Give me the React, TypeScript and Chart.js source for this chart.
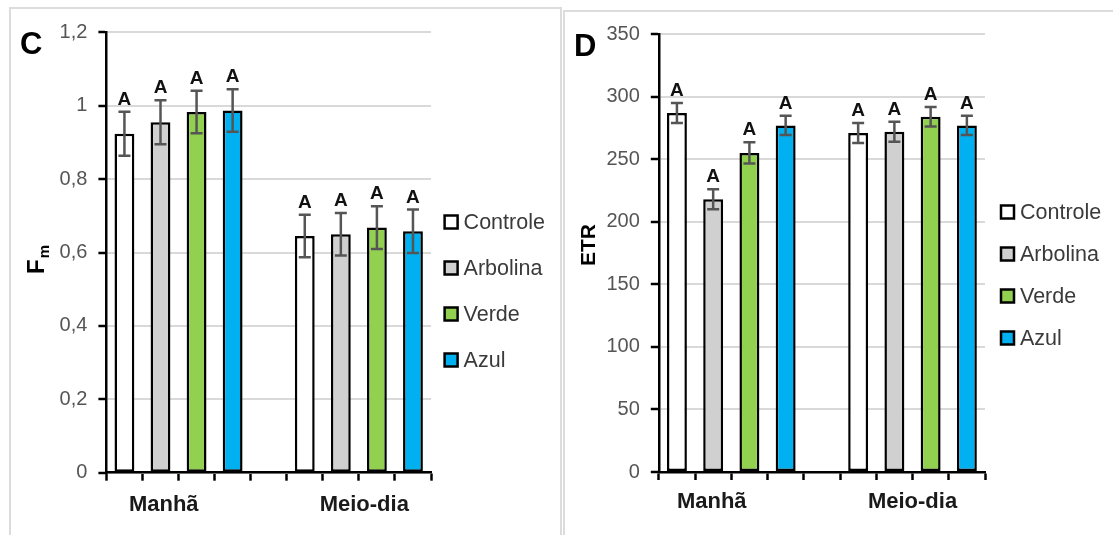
import React, { useEffect, useRef } from 'react';
import { Chart, registerables } from 'chart.js';

Chart.register(...registerables);

// ---------- data ----------
const categories = ['Manhã', 'Meio-dia'];
const seriesNames = ['Controle', 'Arbolina', 'Verde', 'Azul'];
const seriesColors = ['#ffffff', '#d0d0d0', '#92d050', '#00b0f0'];

// Panel C: Fm
const fmControle = [0.924, 0.645];
const fmArbolina = [0.955, 0.65];
const fmVerde = [0.983, 0.668];
const fmAzul = [0.987, 0.658];
const fmErrControle = [0.06, 0.058];
const fmErrArbolina = [0.06, 0.058];
const fmErrVerde = [0.058, 0.058];
const fmErrAzul = [0.058, 0.059];
const fmLetters = [['A', 'A'], ['A', 'A'], ['A', 'A'], ['A', 'A']];
const fmTickLabels = ['0', '0,2', '0,4', '0,6', '0,8', '1', '1,2'];

// Panel D: ETR
const etrControle = [287, 271];
const etrArbolina = [218, 272];
const etrVerde = [255, 284];
const etrAzul = [277, 277];
const etrErrControle = [8, 8];
const etrErrArbolina = [8, 8];
const etrErrVerde = [8.5, 7.8];
const etrErrAzul = [7.7, 7.7];
const etrLetters = [['A', 'A'], ['A', 'A'], ['A', 'A'], ['A', 'A']];
const etrTickLabels = ['0', '50', '100', '150', '200', '250', '300', '350'];

const FONT = "'Liberation Sans', Arial, sans-serif";

type PanelCfg = {
  letter: string;
  values: number[][];
  errors: number[][];
  letters: string[][];
  yMax: number;
  yStep: number;
  tickLabels: string[];
  title: string;
  titleSub?: string;
  width: number;
  height: number;
  areaLeft: number;
  areaRight: number;
  areaTop: number;
  areaBottom: number;
  titleX: number;
  titleY: number;
  titleAlign: 'start' | 'center';
  legendX: number;
  legendY0: number;
  legendDy: number;
  groupLabelAt: number[];
  groupLabelY: number;
  letterX: number;
  letterY: number;
};

function buildSlots(): string[] {
  const slots: string[] = [];
  categories.forEach((c, ci) => {
    seriesNames.forEach((s) => slots.push(c + ' · ' + s));
    if (ci < categories.length - 1) slots.push('gap' + ci);
  });
  return slots;
}

function Panel({ cfg }: { cfg: PanelCfg }) {
  const ref = useRef<HTMLCanvasElement | null>(null);
  useEffect(() => {
    if (!ref.current) return;
    const slots = buildSlots();
    const datasets = seriesNames.map((name, si) => ({
      label: name,
      data: cfg.values[si].map((v, ci) => ({ x: categories[ci] + ' · ' + name, y: v })),
      backgroundColor: seriesColors[si],
      borderColor: '#000000',
      borderWidth: 2.5,
      borderSkipped: false as const,
      grouped: false,
      barPercentage: 0.55,
      categoryPercentage: 1,
    }));

    const decor = {
      id: 'decor',
      afterDatasetsDraw(chart: any) {
        const ctx = chart.ctx as CanvasRenderingContext2D;
        const ys = chart.scales.y;
        ctx.save();
        chart.data.datasets.forEach((ds: any, si: number) => {
          const meta = chart.getDatasetMeta(si);
          meta.data.forEach((bar: any, ci: number) => {
            const v = cfg.values[si][ci];
            const e = cfg.errors[si][ci];
            const yt = ys.getPixelForValue(v + e);
            const yb = ys.getPixelForValue(v - e);
            const x = bar.x;
            ctx.strokeStyle = '#555555';
            ctx.lineWidth = 2.5;
            ctx.beginPath();
            ctx.moveTo(x, yt);
            ctx.lineTo(x, yb);
            ctx.moveTo(x - 6, yt);
            ctx.lineTo(x + 6, yt);
            ctx.moveTo(x - 6, yb);
            ctx.lineTo(x + 6, yb);
            ctx.stroke();
            ctx.fillStyle = '#111111';
            ctx.font = 'bold 19px ' + FONT;
            ctx.textAlign = 'center';
            ctx.textBaseline = 'alphabetic';
            ctx.fillText(cfg.letters[si][ci], x, yt - 7);
          });
        });
        ctx.restore();
      },
      afterDraw(chart: any) {
        const ctx = chart.ctx as CanvasRenderingContext2D;
        const xs = chart.scales.x;
        ctx.save();
        // group labels
        ctx.fillStyle = '#1a1a1a';
        ctx.font = 'bold 22px ' + FONT;
        ctx.textAlign = 'center';
        ctx.textBaseline = 'middle';
        categories.forEach((c, ci) => {
          ctx.fillText(c, xs.getPixelForValue(cfg.groupLabelAt[ci]), cfg.groupLabelY);
        });
        // legend
        chart.data.datasets.forEach((ds: any, si: number) => {
          const cy = cfg.legendY0 + si * cfg.legendDy;
          ctx.fillStyle = ds.backgroundColor;
          ctx.fillRect(cfg.legendX, cy - 6.5, 13, 13);
          ctx.strokeStyle = '#000000';
          ctx.lineWidth = 2.5;
          ctx.strokeRect(cfg.legendX, cy - 6.5, 13, 13);
          ctx.fillStyle = '#3a3a3a';
          ctx.font = '21.5px ' + FONT;
          ctx.textAlign = 'left';
          ctx.textBaseline = 'middle';
          ctx.fillText(ds.label, cfg.legendX + 19, cy + 1);
        });
        // panel letter
        ctx.fillStyle = '#000000';
        ctx.font = 'bold 31px ' + FONT;
        ctx.textAlign = 'left';
        ctx.textBaseline = 'alphabetic';
        ctx.fillText(cfg.letter, cfg.letterX, cfg.letterY);
        // axis title
        ctx.translate(cfg.titleX, cfg.titleY);
        ctx.rotate(-Math.PI / 2);
        ctx.fillStyle = '#000000';
        ctx.textBaseline = 'alphabetic';
        if (cfg.titleAlign === 'center') {
          ctx.font = 'bold 21px ' + FONT;
          ctx.textAlign = 'center';
          ctx.fillText(cfg.title, 0, 0);
        } else {
          ctx.font = 'bold 24px ' + FONT;
          ctx.textAlign = 'left';
          ctx.fillText(cfg.title, 0, 0);
          if (cfg.titleSub) {
            const w = ctx.measureText(cfg.title).width;
            ctx.font = 'bold 15px ' + FONT;
            ctx.fillText(cfg.titleSub, w + 1, 5);
          }
        }
        ctx.restore();
      },
    };

    const chart = new Chart(ref.current, {
      type: 'bar',
      data: { labels: slots, datasets: datasets as any },
      options: {
        responsive: false,
        animation: false,
        devicePixelRatio: 1,
        layout: {
          padding: {
            left: 0,
            top: cfg.areaTop,
            right: cfg.width - cfg.areaRight,
            bottom: 0,
          },
        },
        plugins: { legend: { display: false }, tooltip: { enabled: false } },
        scales: {
          x: {
            type: 'category',
            offset: true,
            ticks: { display: false },
            grid: {
              display: true,
              offset: true,
              drawOnChartArea: false,
              drawTicks: true,
              tickLength: 8,
              tickColor: '#000000',
              tickWidth: 2.5,
            },
            border: { display: true, color: '#000000', width: 2.5 },
            afterFit: (s: any) => {
              s.height = cfg.height - cfg.areaBottom;
            },
          },
          y: {
            min: 0,
            max: cfg.yMax,
            ticks: {
              stepSize: cfg.yStep,
              color: '#555555',
              font: { family: FONT, size: 20 },
              padding: 11,
              callback: (_v: any, i: number) => cfg.tickLabels[i],
            },
            grid: {
              color: '#d9d9d9',
              lineWidth: 2,
              drawTicks: true,
              tickLength: 8,
              tickColor: '#000000',
              tickWidth: 2.5,
            },
            border: { display: true, color: '#000000', width: 2.5 },
            afterFit: (s: any) => {
              s.width = cfg.areaLeft;
            },
          },
        },
      },
      plugins: [decor],
    });
    return () => chart.destroy();
  }, [cfg]);
  return <canvas ref={ref} width={cfg.width} height={cfg.height} style={{ width: cfg.width, height: cfg.height, display: 'block' }} />;
}

const cfgC: PanelCfg = {
  letter: 'C',
  values: [fmControle, fmArbolina, fmVerde, fmAzul],
  errors: [fmErrControle, fmErrArbolina, fmErrVerde, fmErrAzul],
  letters: fmLetters,
  yMax: 1.2,
  yStep: 0.2,
  tickLabels: fmTickLabels,
  title: 'F',
  titleSub: 'm',
  width: 550,
  height: 527,
  areaLeft: 96.4,
  areaRight: 421,
  areaTop: 24.4,
  areaBottom: 464.7,
  titleX: 34,
  titleY: 266,
  titleAlign: 'start',
  legendX: 434.6,
  legendY0: 214,
  legendDy: 46,
  groupLabelAt: [1.09, 6.65],
  groupLabelY: 497,
  letterX: 10,
  letterY: 46,
};

const cfgD: PanelCfg = {
  letter: 'D',
  values: [etrControle, etrArbolina, etrVerde, etrAzul],
  errors: [etrErrControle, etrErrArbolina, etrErrVerde, etrErrAzul],
  letters: etrLetters,
  yMax: 350,
  yStep: 50,
  tickLabels: etrTickLabels,
  title: 'ETR',
  width: 549,
  height: 524,
  areaLeft: 94.8,
  areaRight: 421,
  areaTop: 23.1,
  areaBottom: 461,
  titleX: 31,
  titleY: 234,
  titleAlign: 'center',
  legendX: 437,
  legendY0: 201,
  legendDy: 42,
  groupLabelAt: [0.96, 6.5],
  groupLabelY: 491,
  letterX: 10,
  letterY: 45,
};

export default function App() {
  return (
    <div style={{ position: 'absolute', left: 0, top: 0, width: 1113, height: 535, overflow: 'hidden', background: '#ffffff' }}>
      <div style={{ position: 'absolute', left: 9, top: 7, width: 553, height: 560, border: '2px solid #dcdcdc', boxSizing: 'border-box' }} />
      <div style={{ position: 'absolute', left: 563, top: 10, width: 600, height: 560, border: '2px solid #dcdcdc', boxSizing: 'border-box' }} />
      <div style={{ position: 'absolute', left: 10, top: 8 }}>
        <Panel cfg={cfgC} />
      </div>
      <div style={{ position: 'absolute', left: 564, top: 11 }}>
        <Panel cfg={cfgD} />
      </div>
    </div>
  );
}
